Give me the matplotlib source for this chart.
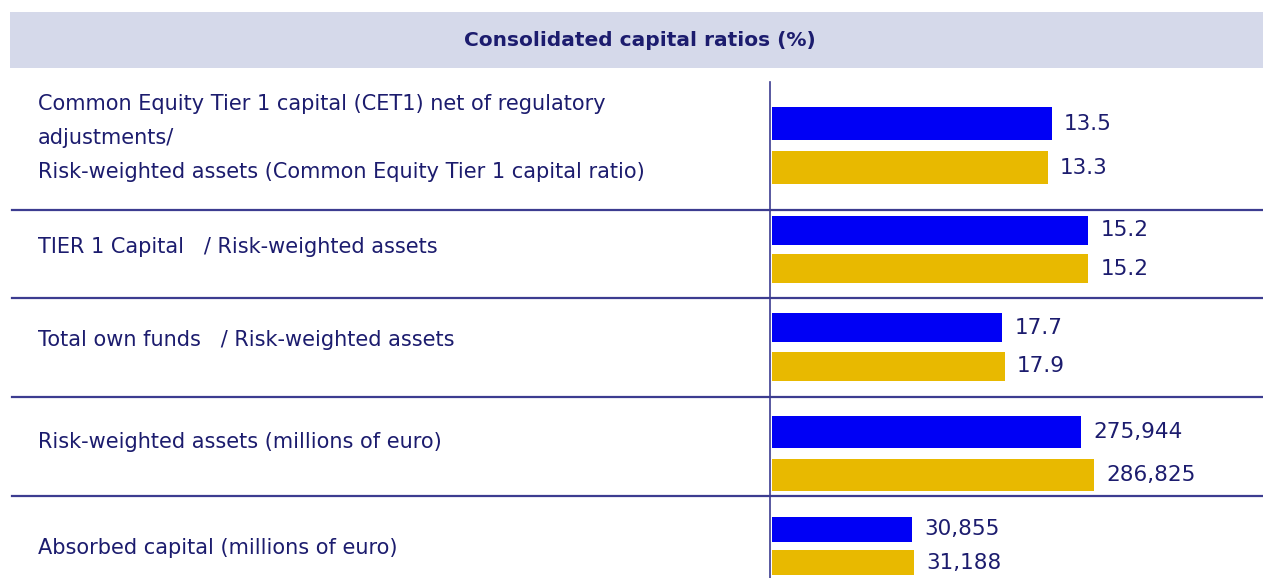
import matplotlib.pyplot as plt

# data
categories = ['Common Equity Tier 1 capital (CET1) net of regulatory\nadjustments/\nRisk-weighted assets (Common Equity Tier 1 capital ratio)',
              'TIER 1 Capital   / Risk-weighted assets',
              'Total own funds   / Risk-weighted assets',
              'Risk-weighted assets (millions of euro)',
              'Absorbed capital (millions of euro)']
blue_vals = [13.5, 15.2, 17.7, 275944, 30855]
gold_vals = [13.3, 15.2, 17.9, 286825, 31188]
fmt = ['{:.1f}', '{:.1f}', '{:.1f}', '{:,.0f}', '{:,.0f}']

BLUE = '#0000f5'
GOLD = '#e8b900'
NAVY = '#1c1c6e'
LINE = '#3c3c90'
FONT = ['DejaVu Sans']

W, H = 1263, 578
fig = plt.figure(figsize=(W / 100, H / 100), dpi=100)

# background axes in pixel coords for the table frame
bg = fig.add_axes([0, 0, 1, 1])
bg.set_xlim(0, W)
bg.set_ylim(H, 0)
bg.axis('off')
bg.add_patch(plt.Rectangle((10, 12), W - 10, 56, color='#d5d9ea', lw=0))
bg.text(640, 41, 'Consolidated capital ratios (%)', ha='center', va='center',
        fontsize=14.5, color=NAVY, family=FONT, fontweight='bold')
for y in [210, 298, 397, 496]:
    bg.plot([12, W], [y, y], color=LINE, lw=1.6)
bg.plot([770, 770], [82, H], color=LINE, lw=1.2)

# text labels on the left
label_y = [138, 247, 340, 442, 548]
for txt, y in zip(categories, label_y):
    bg.text(38, y, txt, ha='left', va='center', fontsize=15, color=NAVY,
            family=FONT, linespacing=1.85)

# one small axes per row, each with its own scale
row_px = [(107, 184), (216, 283), (313, 381), (416, 491), (517, 575)]
xmax = [23.7, 23.6, 37.8, 438000, 108000]
x0 = 772
for i in range(len(categories)):
    top, bot = row_px[i]
    ax = fig.add_axes([x0 / W, 1 - bot / H, (W - x0) / W, (bot - top) / H])
    ax.barh([0, 1], [blue_vals[i], gold_vals[i]], height=0.75, color=[BLUE, GOLD])
    ax.set_ylim(1.375, -0.375)
    ax.set_xlim(0, xmax[i])
    ax.axis('off')
    for j, v in enumerate([blue_vals[i], gold_vals[i]]):
        ax.annotate(fmt[i].format(v), (v, j), xytext=(9, 0), textcoords='offset points',
                    ha='left', va='center', fontsize=15.5, color=NAVY, family=FONT,
                    annotation_clip=False)

fig.savefig('out.png', dpi=100)
